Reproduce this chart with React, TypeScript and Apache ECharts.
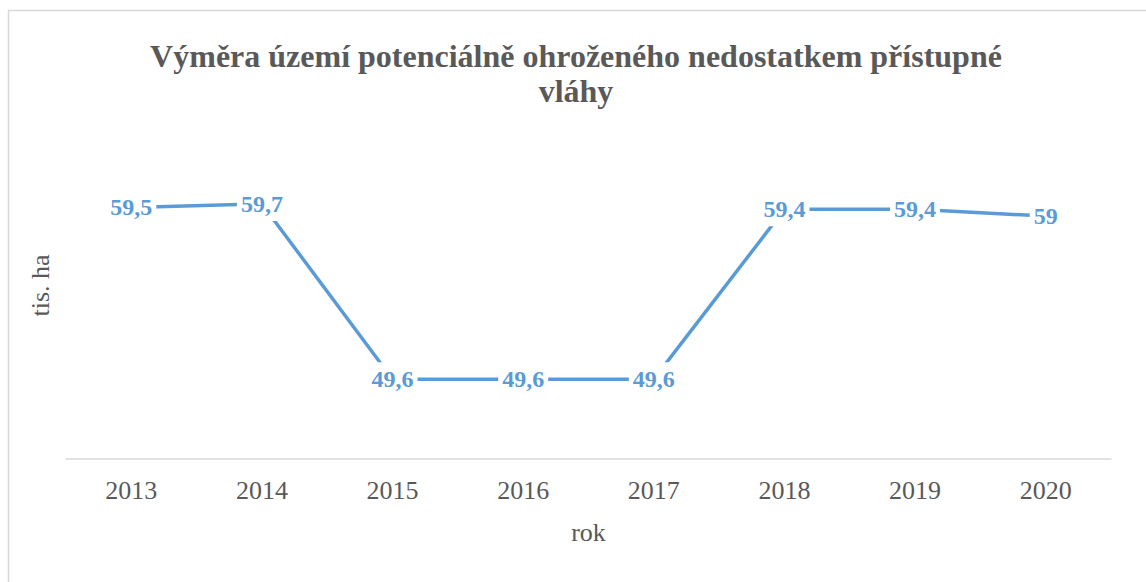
import React, { useEffect, useRef } from "react";
import * as echarts from "echarts";

const titleText = "Výměra území potenciálně ohroženého nedostatkem přístupné\nvláhy";
const years = ["2013", "2014", "2015", "2016", "2017", "2018", "2019", "2020"];
const values = [59.5, 59.7, 49.6, 49.6, 49.6, 59.4, 59.4, 59];
const xName = "rok";
const yName = "tis. ha";

const FONT = "'Liberation Serif', 'Times New Roman', serif";

export default function App() {
  const ref = useRef<HTMLDivElement>(null);
  useEffect(() => {
    document.body.style.margin = "0";
    const chart = echarts.init(ref.current!, null, { renderer: "svg" });
    chart.setOption({
      animation: false,
      backgroundColor: "#ffffff",
      textStyle: { fontFamily: FONT },
      graphic: [
        {
          type: "rect",
          shape: { x: 8.5, y: 10.5, width: 1150, height: 600 },
          style: { fill: "none", stroke: "#d9d9d9", lineWidth: 1.5 },
          silent: true,
        },
        {
          type: "text",
          x: 576,
          y: 38,
          silent: true,
          style: {
            text: titleText,
            align: "center",
            verticalAlign: "top",
            font: `bold 32px ${FONT}`,
            lineHeight: 35,
            fill: "#595959",
          },
        },
      ],
      grid: { left: 66, right: 35, top: 112, bottom: 123 },
      xAxis: {
        type: "category",
        data: years,
        boundaryGap: true,
        name: xName,
        nameLocation: "middle",
        nameGap: 60,
        nameTextStyle: { fontFamily: FONT, fontSize: 26, color: "#595959" },
        axisLine: { show: true, lineStyle: { color: "#d9d9d9", width: 1.5 } },
        axisTick: { show: false },
        axisLabel: { fontFamily: FONT, fontSize: 26, color: "#595959", margin: 18 },
      },
      yAxis: {
        type: "value",
        min: 45,
        max: 65,
        name: yName,
        nameLocation: "middle",
        nameGap: 13,
        nameTextStyle: { fontFamily: FONT, fontSize: 26, color: "#595959" },
        axisLine: { show: false },
        axisTick: { show: false },
        axisLabel: { show: false },
        splitLine: { show: false },
      },
      series: [
        {
          type: "line",
          data: values,
          showSymbol: true,
          symbol: "circle",
          symbolSize: 0.1,
          lineStyle: { color: "#5B9BD5", width: 3.5 },
          itemStyle: { color: "#5B9BD5" },
          label: {
            show: true,
            position: "inside",
            formatter: (p: any) => String(p.value).replace(".", ","),
            fontFamily: FONT,
            fontWeight: "bold",
            fontSize: 24,
            color: "#5B9BD5",
            backgroundColor: "#ffffff",
            padding: [6, 4, 4, 4],
          },
        },
      ],
    });
    return () => chart.dispose();
  }, []);
  return <div ref={ref} style={{ width: 1146, height: 582 }} />;
}
